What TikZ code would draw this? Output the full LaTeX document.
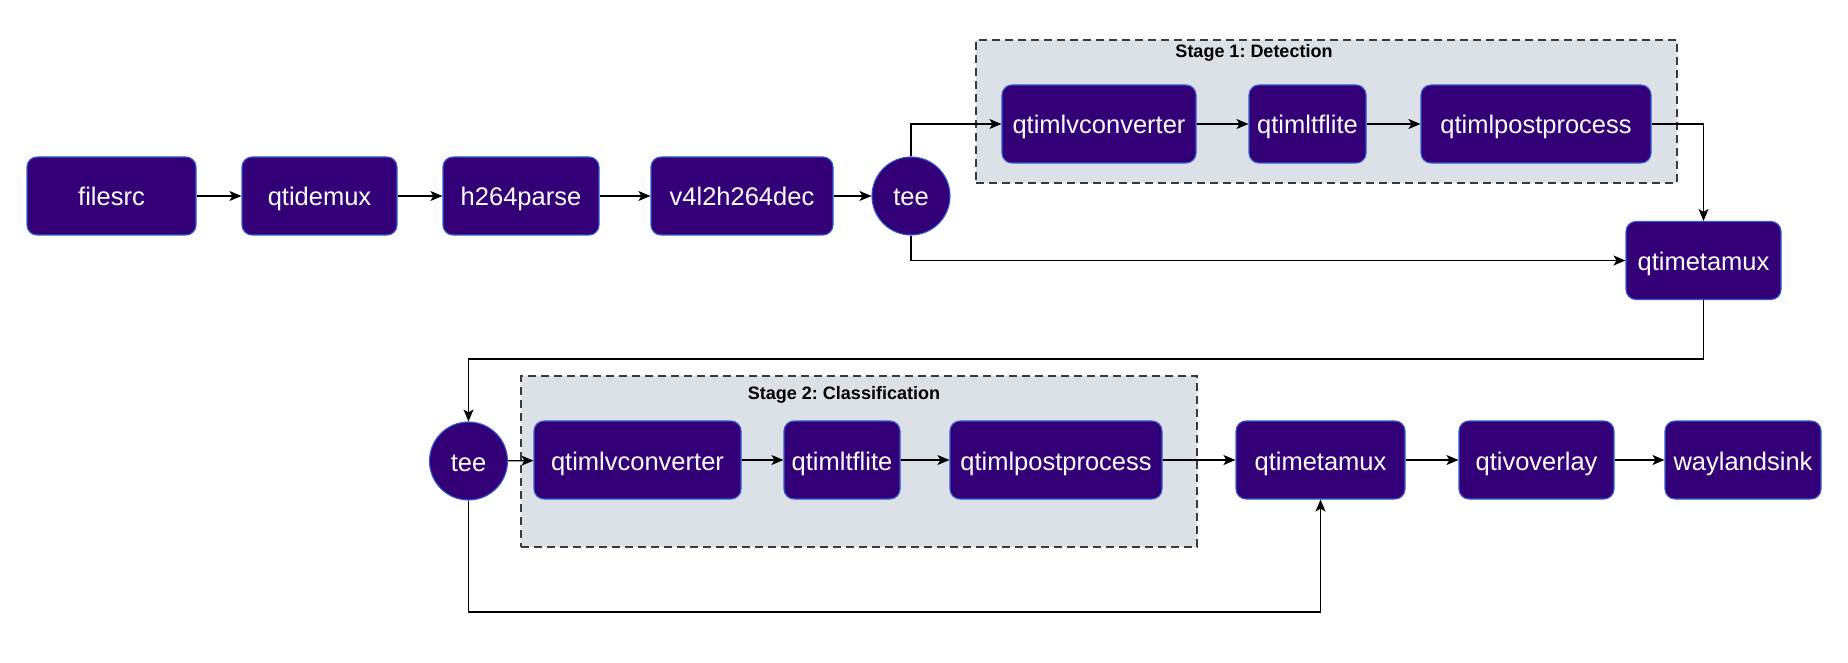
\documentclass[tikz,border=0pt]{standalone}
\usepackage{fontspec}
\setmainfont{Liberation Sans}
\usetikzlibrary{arrows.meta}
\frenchspacing
\definecolor{boxfill}{HTML}{330077}
\definecolor{boxline}{HTML}{2F5BD0}
\definecolor{stagefill}{HTML}{DCE1E8}
\definecolor{stageline}{HTML}{3A3A3A}
\tikzset{
  elem/.style={draw=boxline, line width=1.1pt, fill=boxfill, rounded corners=10pt,
    text=white, font=\fontsize{25.5}{30}\selectfont, inner sep=0pt, minimum height=78pt,
    text height=20pt, text depth=0pt},
  teenode/.style={circle, draw=boxline, line width=1.1pt, fill=boxfill, text=white,
    font=\fontsize{25.5}{30}\selectfont, inner sep=0pt, minimum size=78pt,
    text height=20pt, text depth=0pt},
  stagebox/.style={draw=stageline, fill=stagefill, line width=1.3pt, dash pattern=on 8pt off 5pt},
  stagetitle/.style={font=\bfseries\fontsize{18}{22}\selectfont, text=black},
  conn/.style={draw=black, line width=1.3pt, -{Stealth[length=12pt,width=10pt,inset=3pt]}}
}
\begin{document}
\begin{tikzpicture}[x=1pt,y=-1pt]
\useasboundingbox (0,0) rectangle (1848,663);
% stage boxes
\node[stagebox, minimum width=701pt, minimum height=143pt, inner sep=0pt] (stage1) at (1326.5,111.5) {};
\node[stagetitle] (st1) at (1254,53) {Stage 1: Detection};
\node[stagebox, minimum width=676pt, minimum height=171pt, inner sep=0pt] (stage2) at (859,461.5) {};
\node[stagetitle] (st2) at (844,395) {Stage 2: Classification};
% row 1
\node[elem, minimum width=169pt] (filesrc) at (111.5,196) {filesrc};
\node[elem, minimum width=155pt] (demux) at (319.5,196) {qtidemux};
\node[elem, minimum width=156pt] (parse) at (521,196) {h264parse};
\node[elem, minimum width=182pt] (dec) at (742,196) {v4l2h264dec};
\node[teenode] (tee1) at (911,196) {tee};
\node[elem, minimum width=194pt] (lv1) at (1099,124) {qtimlvconverter};
\node[elem, minimum width=117pt] (tf1) at (1307.5,124) {qtimltflite};
\node[elem, minimum width=230pt] (pp1) at (1536,124) {qtimlpostprocess};
\node[elem, minimum width=155pt] (meta1) at (1703.5,260.5) {qtimetamux};
% row 2
\node[teenode] (tee2) at (468.5,461) {tee};
\node[elem, minimum width=207pt] (lv2) at (637.5,460) {qtimlvconverter};
\node[elem, minimum width=116pt] (tf2) at (842,460) {qtimltflite};
\node[elem, minimum width=212pt] (pp2) at (1056,460) {qtimlpostprocess};
\node[elem, minimum width=169pt] (meta2) at (1320.5,460) {qtimetamux};
\node[elem, minimum width=155pt] (ovl) at (1536.5,460) {qtivoverlay};
\node[elem, minimum width=156pt] (sink) at (1743,460) {waylandsink};
\coordinate (r1) at (1000,359);
\coordinate (r2) at (900,612);
% connectors
\draw[conn] (filesrc) -- (demux);
\draw[conn] (demux) -- (parse);
\draw[conn] (parse) -- (dec);
\draw[conn] (dec) -- (tee1);
\draw[conn] (tee1.north) |- (lv1.west);
\draw[conn] (lv1) -- (tf1);
\draw[conn] (tf1) -- (pp1);
\draw[conn] (pp1.east) -| (meta1.north);
\draw[conn] (tee1.south) |- (meta1.west);
\draw[conn] (meta1.south) |- (r1) -| (tee2.north);
\draw[conn] (tee2) -- (lv2);
\draw[conn] (lv2) -- (tf2);
\draw[conn] (tf2) -- (pp2);
\draw[conn] (pp2) -- (meta2);
\draw[conn] (meta2) -- (ovl);
\draw[conn] (ovl) -- (sink);
\draw[conn] (tee2.south) |- (r2) -| (meta2.south);
\end{tikzpicture}
\end{document}
